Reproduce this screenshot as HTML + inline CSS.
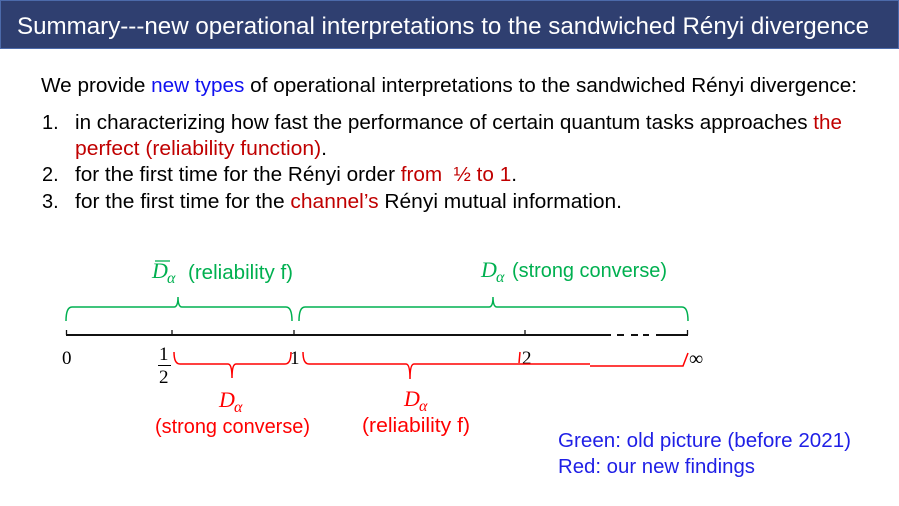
<!DOCTYPE html>
<html>
<head>
<meta charset="utf-8">
<style>
  html, body { margin:0; padding:0; background:#ffffff; }
  body { width:899px; height:506px; overflow:hidden; }
  svg { display:block; }
  .s { font-family:"Liberation Sans", "DejaVu Sans", sans-serif; white-space:pre; }
  .m { font-family:"Liberation Serif", "DejaVu Serif", serif; font-style:italic; }
  .n { font-family:"Liberation Serif", "DejaVu Serif", serif; }
</style>
</head>
<body>
<svg width="899" height="506" viewBox="0 0 899 506" xmlns="http://www.w3.org/2000/svg">
  <!-- title bar -->
  <rect x="0.5" y="0.5" width="898" height="48" fill="#2F3F70" stroke="#4C6AAA" stroke-width="1"/>
  <text class="s" x="17" y="34" font-size="24" fill="#ffffff" textLength="852" lengthAdjust="spacingAndGlyphs">Summary---new operational interpretations to the sandwiched Rényi divergence</text>

  <!-- body text -->
  <text class="s" x="41" y="92" font-size="20" fill="#000" textLength="816" lengthAdjust="spacingAndGlyphs">We provide <tspan fill="#1010F0">new types</tspan> of operational interpretations to the sandwiched Rényi divergence:</text>

  <text class="s" x="42" y="129" font-size="20" fill="#000">1.</text>
  <text class="s" x="75" y="129" font-size="20" fill="#000" textLength="767" lengthAdjust="spacingAndGlyphs">in characterizing how fast the performance of certain quantum tasks approaches <tspan fill="#C00000">the</tspan></text>
  <text class="s" x="75" y="155" font-size="20" fill="#C00000" textLength="252" lengthAdjust="spacingAndGlyphs">perfect (reliability function)<tspan fill="#000">.</tspan></text>

  <text class="s" x="42" y="181" font-size="20" fill="#000">2.</text>
  <text class="s" x="75" y="181" font-size="20" fill="#000" textLength="442" lengthAdjust="spacingAndGlyphs">for the first time for the Rényi order <tspan fill="#C00000">from  ½ to 1</tspan>.</text>

  <text class="s" x="42" y="208" font-size="20" fill="#000">3.</text>
  <text class="s" x="75" y="208" font-size="20" fill="#000" textLength="547" lengthAdjust="spacingAndGlyphs">for the first time for the <tspan fill="#C00000">channel’s</tspan> Rényi mutual information.</text>

  <!-- green labels -->
  <g fill="#00B050">
    <line x1="155" y1="261" x2="170" y2="261" stroke="#00B050" stroke-width="1.3"/>
    <text class="m" x="152" y="278" font-size="22">D</text>
    <text class="m" x="167" y="283" font-size="16">α</text>
    <text class="s" x="188" y="279" font-size="20" textLength="105" lengthAdjust="spacingAndGlyphs">(reliability f)</text>

    <text class="m" x="481" y="277" font-size="22">D</text>
    <text class="m" x="496" y="282" font-size="16">α</text>
    <text class="s" x="512" y="277" font-size="20" textLength="155" lengthAdjust="spacingAndGlyphs">(strong converse)</text>
  </g>

  <!-- green braces -->
  <g fill="none" stroke="#00B050" stroke-width="1.5">
    <path d="M66,321 Q66,307 72,307 L174,307 Q178,307 178,297 Q178,307 182,307 L286,307 Q292,307 292,321"/>
    <path d="M299,321 Q299,307 305,307 L489,307 Q493,307 493,297 Q493,307 497,307 L682,307 Q688,307 688,321"/>
  </g>

  <!-- axis -->
  <g stroke="#111" stroke-width="2" fill="none">
    <line x1="66" y1="335" x2="611" y2="335"/>
    <line x1="617" y1="335" x2="624" y2="335"/>
    <line x1="631" y1="335" x2="638" y2="335"/>
    <line x1="643" y1="335" x2="649" y2="335"/>
    <line x1="656" y1="335" x2="688" y2="335"/>
  </g>
  <g stroke="#111" stroke-width="1.3">
    <line x1="66.5" y1="330" x2="66.5" y2="335"/>
    <line x1="172" y1="330" x2="172" y2="335"/>
    <line x1="294" y1="330" x2="294" y2="335"/>
    <line x1="525" y1="330" x2="525" y2="335"/>
    <line x1="687.5" y1="330" x2="687.5" y2="335"/>
  </g>

  <!-- axis labels -->
  <g fill="#000">
    <text class="n" x="62" y="364" font-size="19">0</text>
    <text class="n" x="159" y="360" font-size="19">1</text>
    <line x1="158" y1="365.5" x2="171" y2="365.5" stroke="#000" stroke-width="1"/>
    <text class="n" x="159" y="383" font-size="19">2</text>
    <text class="n" x="290" y="364" font-size="19">1</text>
    <text class="n" x="522" y="364" font-size="19">2</text>
    <text class="n" x="689" y="365" font-size="20">∞</text>
  </g>

  <!-- red braces -->
  <g fill="none" stroke="#FF0000" stroke-width="1.5">
    <path d="M174,352 Q174,364 180,364 L228,364 Q232,364 232,378 Q232,364 236,364 L285,364 Q291,364 291,352"/>
    <path d="M303,352 Q303,364 309,364 L406,364 Q410,364 410,379 Q410,364 414,364 L590,364"/>
    <path d="M590,366 L683,366 L688,353"/>
    <path d="M520,352 L519,363"/>
  </g>

  <!-- red labels -->
  <g fill="#FF0000">
    <text class="m" x="219" y="407" font-size="22">D</text>
    <text class="m" x="234" y="412" font-size="16">α</text>
    <text class="s" x="155" y="433" font-size="20" textLength="155" lengthAdjust="spacingAndGlyphs">(strong converse)</text>

    <text class="m" x="404" y="406" font-size="22">D</text>
    <text class="m" x="419" y="411" font-size="16">α</text>
    <text class="s" x="362" y="432" font-size="20" textLength="108" lengthAdjust="spacingAndGlyphs">(reliability f)</text>
  </g>

  <!-- legend -->
  <text class="s" x="558" y="447" font-size="20" fill="#1F1FE6" textLength="293" lengthAdjust="spacingAndGlyphs">Green: old picture (before 2021)</text>
  <text class="s" x="558" y="473" font-size="20" fill="#1F1FE6" textLength="197" lengthAdjust="spacingAndGlyphs">Red: our new findings</text>
</svg>
</body>
</html>
